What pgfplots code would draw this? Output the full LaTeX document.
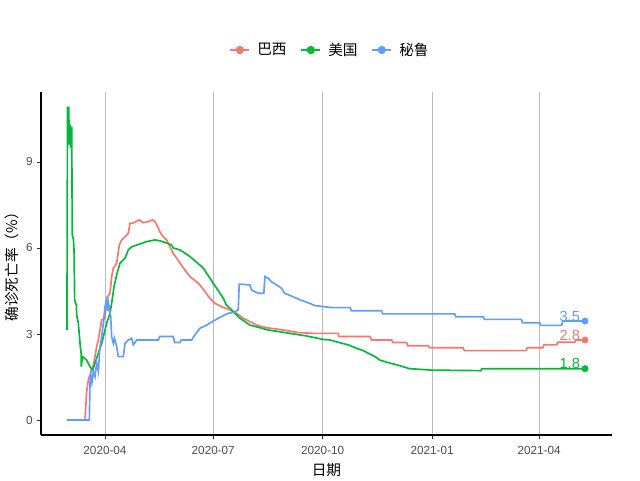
\documentclass[border=0pt]{standalone}
\usepackage{fontspec}
\setmainfont{Liberation Sans}
\newfontfamily\cjk{Noto Sans CJK SC}
\usepackage{pgfplots}
\pgfplotsset{compat=1.18}
\definecolor{cBR}{HTML}{F8766D}
\definecolor{cUS}{HTML}{00BA38}
\definecolor{cPE}{HTML}{619CFF}
\definecolor{tickgray}{HTML}{4D4D4D}
\definecolor{gridgray}{HTML}{BDBDBD}
\begin{document}
\begin{tikzpicture}
\useasboundingbox (0,0) rectangle (480pt,360pt);
\begin{axis}[
  at={(30.75pt,33.75pt)}, anchor=south west,
  scale only axis, width=428.25pt, height=257.5pt,
  xmin=-53.8, xmax=426.2, ymin=-0.523, ymax=11.45,
  axis x line*=bottom, axis y line*=left,
  axis line style={line width=1.1pt, black},
  tick align=outside, major tick length=2.75pt,
  tick style={color=black!80, line width=0.6pt},
  xtick={0,91,183,275,365},
  xticklabels={2020-04,2020-07,2020-10,2021-01,2021-04},
  ytick={0,3,6,9},
  minor tick num=0,
  xmajorgrids=true, ymajorgrids=false,
  major grid style={color=gridgray, line width=0.6pt},
  ticklabel style={font=\fontsize{8.8}{10}\selectfont, text=tickgray},
  xticklabel style={yshift=-2pt},
  /pgf/number format/assume math mode=true,
  xlabel={\cjk 日期}, ylabel={\cjk 确诊死亡率（\%）},
  label style={font=\fontsize{11}{13}\selectfont},
  xlabel style={at={([yshift=-26.25pt]axis description cs:0.5,0)}, anchor=center},
  ylabel style={at={([xshift=-21.75pt]axis description cs:0,0.5)}, anchor=center, rotate=0},
  legend style={at={([yshift=31.3pt,xshift=3pt]axis description cs:0.5,1)}, anchor=center,
    draw=none, fill=none, legend columns=-1,
    font=\fontsize{11}{13}\selectfont\cjk,
    /tikz/every odd column/.append style={column sep=3.5pt},
    /tikz/every even column/.append style={column sep=8.5pt}},
  legend image code/.code={
    \draw[#1] (0pt,0pt) -- (14pt,0pt);
    \node[#1, font=\fontsize{6}{6}\selectfont, inner sep=0pt] at (7pt,-2.6pt) {a};
    \fill[#1] (7pt,0pt) circle (2.4pt);
  },
]
% Brazil
\addplot[color=cBR, line width=1.25pt] coordinates {
(-32,0) (-16.8,0) (-15.4,0.99) (-14,1.40) (-12.6,1.57) (-9.8,1.92) (-8.4,2.21) (-7,2.56) (-5.6,2.79) (-4.2,3.14) (-2.8,3.49) (0,3.55) (1.4,4.24) (4.2,4.42) (5.6,5.0) (7,5.29) (9.8,5.47) (12,6.10) (14,6.28) (16.8,6.39) (19.6,6.51) (21,6.86) (23,6.86) (26,6.92) (29,6.98) (32,6.88) (35,6.9) (40,6.98) (42,6.92) (44.8,6.69) (46,6.57) (49,6.39) (51.8,6.28) (54.6,6.04) (57.4,5.81) (60.3,5.64) (63,5.47) (67.2,5.23) (71.4,5.0) (77,4.82) (79.8,4.71) (84,4.48) (88.2,4.24) (92.4,4.07) (98,3.95) (105,3.84) (110.7,3.72) (116.2,3.55) (121.8,3.43) (128.8,3.29) (135.9,3.22) (149.8,3.14) (162.4,3.05) (175,3.02) (196,3.02) (196.5,2.91) (222.7,2.91) (224,2.79) (241,2.79) (242,2.7) (253.5,2.7) (254.5,2.59) (271.7,2.59) (273,2.52) (301,2.52) (302,2.42) (354,2.42) (355,2.52) (368,2.52) (369,2.62) (379.6,2.62) (380.6,2.71) (395,2.71) (396,2.79) (403.5,2.79)
};
\addlegendentry{巴西}
% USA
\addplot[color=cUS, line width=1.25pt] coordinates {
(-32,3.14) (-31.5,10.9) (-30.5,10.9) (-30,9.6) (-29.5,10.3) (-29,9.5) (-28.5,10.2) (-28,10.2) (-27.5,6.45) (-26.5,6.3) (-26,5.87) (-25.5,4.19) (-24,4.0) (-23.8,3.66) (-22.4,3.37) (-21,2.67) (-20,2.3) (-19.9,1.86) (-19,2.21) (-15.4,2.09) (-12.6,1.86) (-10.3,1.74) (-8.4,1.98) (-5.6,2.33) (-2.8,2.67) (1.4,3.37) (4.2,3.72) (5.6,4.07) (7.6,4.65) (9.8,5.06) (12.6,5.47) (16.8,5.64) (19.6,5.93) (22.4,6.04) (26.6,6.1) (35,6.22) (42,6.28) (46,6.25) (51.8,6.17) (56,6.1) (57.4,6.0) (63,5.93) (67.2,5.82) (71.4,5.7) (77,5.5) (79.8,5.4) (82.6,5.3) (85.4,5.12) (88.2,4.95) (91,4.77) (93.8,4.6) (96.6,4.42) (99.4,4.25) (102,4.01) (105,3.9) (107.8,3.78) (113.4,3.55) (117.6,3.43) (121.8,3.31) (130,3.22) (137,3.14) (151,3.05) (169.5,2.93) (183.5,2.81) (189,2.79) (196,2.71) (204.5,2.62) (211.5,2.5) (217,2.42) (222.7,2.3) (227,2.21) (231,2.09) (238,2.0) (246.5,1.91) (256,1.79) (274.5,1.74) (316,1.72) (317,1.79) (403.5,1.79)
};
\addlegendentry{美国}
% Peru
\addplot[color=cPE, line width=1.25pt] coordinates {
(-32,0) (-13.2,0) (-12.6,1.28) (-12,1.57) (-11,1.3) (-9.8,1.69) (-8.4,1.51) (-7,1.98) (-5.6,1.7) (-4.2,2.56) (-2.8,2.91) (-1.4,3.37) (0,3.95) (1.4,4.19) (2,3.8) (2.8,4.1) (4.8,3.6) (5.6,2.91) (7,2.67) (8,2.85) (9.8,2.56) (11.2,2.21) (15.4,2.21) (16.8,2.67) (19.6,2.79) (22.4,2.85) (23.8,2.62) (26.6,2.79) (44.8,2.79) (46,2.91) (57.4,2.91) (58.5,2.7) (63,2.7) (64,2.79) (72.8,2.79) (75.6,2.97) (79.8,3.2) (85.4,3.31) (91,3.45) (96.6,3.58) (103.6,3.72) (107.8,3.75) (112,3.84) (112.8,4.74) (121.8,4.71) (123.3,4.53) (128.8,4.42) (133.5,4.42) (134.5,5.0) (137,4.95) (140,4.82) (144.3,4.71) (148.5,4.59) (151,4.42) (158,4.30) (163.9,4.19) (170.8,4.09) (176.5,3.99) (190.5,3.92) (206,3.92) (207,3.81) (232.5,3.81) (233.5,3.70) (294,3.70) (295,3.60) (318,3.60) (319,3.51) (350,3.51) (351,3.39) (365.5,3.39) (366.5,3.30) (383.8,3.30) (384.8,3.45) (403.5,3.45)
};
\addlegendentry{秘鲁}
% end points
\addplot[only marks, mark=*, color=cBR, mark size=2.4pt, forget plot] coordinates {(403.5,2.79)};
\addplot[only marks, mark=*, color=cUS, mark size=2.4pt, forget plot] coordinates {(403.5,1.79)};
\addplot[only marks, mark=*, color=cPE, mark size=2.4pt, forget plot] coordinates {(403.5,3.45)};
\node[anchor=base east, inner sep=0pt, text=cPE, font=\fontsize{11}{13}\selectfont] at (axis cs:399.5,3.45) {3.5};
\node[anchor=base east, inner sep=0pt, text=cBR, font=\fontsize{11}{13}\selectfont] at (axis cs:399.5,2.79) {2.8};
\node[anchor=base east, inner sep=0pt, text=cUS, font=\fontsize{11}{13}\selectfont] at (axis cs:399.5,1.79) {1.8};
\end{axis}
\end{tikzpicture}
\end{document}
